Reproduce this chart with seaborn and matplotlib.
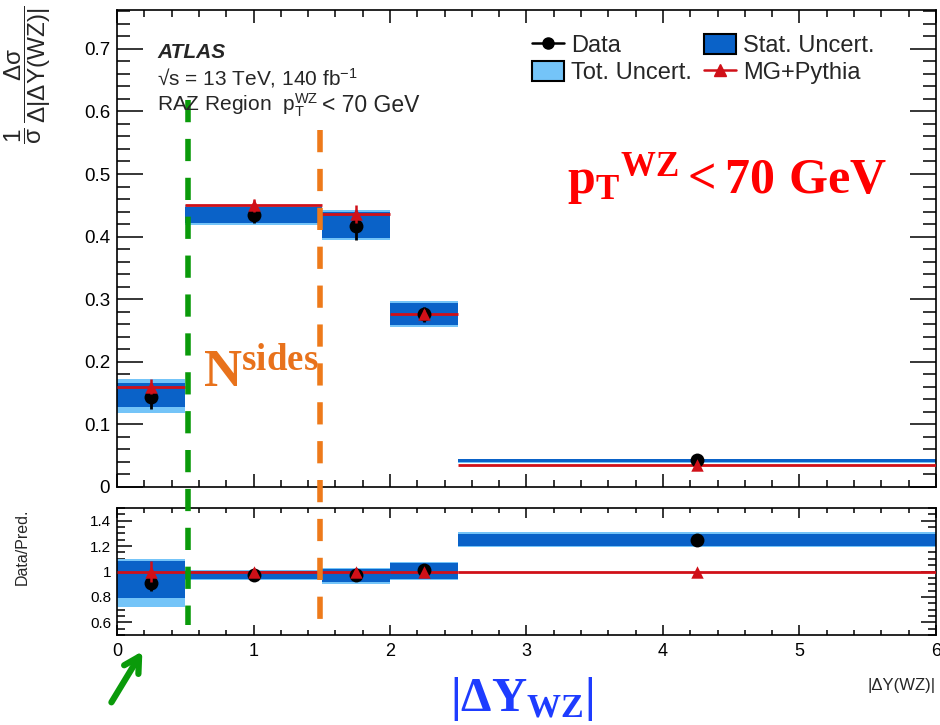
import numpy as np
import pandas as pd
import matplotlib
matplotlib.use("Agg")
import matplotlib.pyplot as plt
import seaborn as sns
from matplotlib.lines import Line2D
from matplotlib.patches import Patch
from matplotlib.ticker import MultipleLocator, FuncFormatter
from matplotlib.transforms import blended_transform_factory

# ---------------- data ----------------
bin_edges = [0.0, 0.5, 1.5, 2.0, 2.5, 6.0]
bin_centers = [0.25, 1.0, 1.75, 2.25, 4.25]

data_val = [0.144, 0.434, 0.417, 0.276, 0.043]
data_err = [0.020, 0.012, 0.022, 0.012, 0.004]
mc_val = [0.160, 0.450, 0.436, 0.277, 0.035]
mc_err = [0.012, 0.010, 0.015, 0.006, 0.002]
stat_lo = [0.128, 0.422, 0.398, 0.259, 0.0405]
stat_hi = [0.166, 0.447, 0.439, 0.294, 0.0440]
tot_lo = [0.118, 0.419, 0.394, 0.255, 0.0390]
tot_hi = [0.172, 0.450, 0.442, 0.297, 0.0450]

ratio_val = [0.91, 0.975, 0.97, 1.01, 1.25]
ratio_err = [0.06, 0.015, 0.03, 0.02, 0.01]
mc_ratio = [1.0, 1.0, 1.0, 1.0, 1.0]
mc_ratio_err = [0.08, 0.02, 0.03, 0.02, 0.01]
rstat_lo = [0.79, 0.94, 0.915, 0.945, 1.20]
rstat_hi = [1.08, 1.005, 1.02, 1.07, 1.295]
rtot_lo = [0.72, 0.935, 0.905, 0.935, 1.19]
rtot_hi = [1.10, 1.01, 1.025, 1.075, 1.31]

main_yticks = [0, 0.1, 0.2, 0.3, 0.4, 0.5, 0.6, 0.7]
ratio_yticks = [0.6, 0.8, 1.0, 1.2, 1.4]
x_ticks = [0, 1, 2, 3, 4, 5, 6]

legend_labels = ["Data", "Tot. Uncert.", "Stat. Uncert.", "MG+Pythia"]

# ---------------- style ----------------
sns.set_theme(style="ticks")
plt.rcParams["font.family"] = ["Liberation Sans", "DejaVu Sans"]
plt.rcParams.update({
    "mathtext.fontset": "custom",
    "mathtext.rm": "Liberation Sans",
    "mathtext.it": "Liberation Sans:italic",
    "mathtext.bf": "Liberation Serif:bold",
    "mathtext.sf": "Liberation Sans",
    "axes.edgecolor": "black",
    "axes.linewidth": 1.2,
    "xtick.color": "black",
    "ytick.color": "black",
})

C_STAT = "#0A62C8"
C_TOT = "#74C4F8"
C_MC = "#D01018"

df = pd.DataFrame({"x": bin_centers, "data": data_val, "mc": mc_val,
                   "ratio": ratio_val, "mcr": mc_ratio})
lo_edges = np.array(bin_edges[:-1])
widths = np.diff(bin_edges)

fig = plt.figure(figsize=(9.4, 7.25), dpi=100)
ax1 = fig.add_axes([0.1245, 0.3283, 0.8712, 0.6579])
ax2 = fig.add_axes([0.1245, 0.1241, 0.8712, 0.1752])


def draw_panel(ax, lo_t, hi_t, lo_s, hi_s, mc, mce, dat, de, ycol, mcol):
    ax.bar(lo_edges, np.array(hi_t) - np.array(lo_t), bottom=lo_t, width=widths,
           align="edge", color=C_TOT, linewidth=0, zorder=1)
    ax.bar(lo_edges, np.array(hi_s) - np.array(lo_s), bottom=lo_s, width=widths,
           align="edge", color=C_STAT, linewidth=0, zorder=2)
    ax.hlines(mc, bin_edges[:-1], bin_edges[1:], color=C_MC, lw=2.0, zorder=3)
    ax.errorbar(bin_centers, dat, yerr=de, fmt="none", ecolor="black",
                elinewidth=2.0, zorder=4)
    sns.scatterplot(data=df, x="x", y=ycol, ax=ax, color="black", marker="o",
                    s=100, edgecolor="black", linewidth=0, zorder=5, legend=False)
    ax.errorbar(bin_centers, mc, yerr=mce, fmt="none", ecolor=C_MC,
                elinewidth=1.8, zorder=6)
    sns.scatterplot(data=df, x="x", y=mcol, ax=ax, color=C_MC, marker="^",
                    s=80, edgecolor=C_MC, linewidth=0, zorder=7, legend=False)
    ax.set_xlabel("")
    ax.set_ylabel("")


draw_panel(ax1, tot_lo, tot_hi, stat_lo, stat_hi, mc_val, mc_err,
           data_val, data_err, "data", "mc")
draw_panel(ax2, rtot_lo, rtot_hi, rstat_lo, rstat_hi, mc_ratio, mc_ratio_err,
           ratio_val, ratio_err, "ratio", "mcr")

fmt = FuncFormatter(lambda v, p: f"{v:g}")

ax1.set_xlim(0, 6)
ax1.set_ylim(0, 0.762)
ax1.set_yticks(main_yticks)
ax1.yaxis.set_major_formatter(fmt)
ax1.yaxis.set_minor_locator(MultipleLocator(0.02))
ax1.set_xticks(x_ticks)
ax1.xaxis.set_minor_locator(MultipleLocator(0.2))
ax1.tick_params(axis="x", which="both", direction="in", top=True, bottom=True,
                labelbottom=False)
ax1.tick_params(axis="x", which="major", length=9.4, width=1.1)
ax1.tick_params(axis="x", which="minor", length=4.7, width=1.1)
ax1.tick_params(axis="y", which="both", direction="in", left=True, right=True,
                labelsize=13.5, pad=5)
ax1.tick_params(axis="y", which="major", length=18.5, width=1.1)
ax1.tick_params(axis="y", which="minor", length=9.3, width=1.1)

ax2.set_xlim(0, 6)
ax2.set_ylim(0.5, 1.5)
ax2.set_yticks(ratio_yticks)
ax2.yaxis.set_major_formatter(fmt)
ax2.yaxis.set_minor_locator(MultipleLocator(0.05))
ax2.set_xticks(x_ticks)
ax2.xaxis.set_major_formatter(fmt)
ax2.xaxis.set_minor_locator(MultipleLocator(0.2))
ax2.tick_params(axis="x", which="both", direction="in", top=True, bottom=True,
                labelsize=13, pad=6)
ax2.tick_params(axis="x", which="major", length=7, width=1.1)
ax2.tick_params(axis="x", which="minor", length=3.6, width=1.1)
ax2.tick_params(axis="y", which="both", direction="in", left=True, right=True,
                labelsize=11, pad=4)
ax2.tick_params(axis="y", which="major", length=11, width=1.1)
ax2.tick_params(axis="y", which="minor", length=5.8, width=1.1)

# axis titles
fig.text(0.029, 0.992,
         r"$\dfrac{1}{\mathrm{σ}}\,\dfrac{\mathrm{Δσ}}{\mathrm{Δ|ΔY(WZ)|}}$",
         rotation=90, ha="center", va="top", fontsize=17.5)
fig.text(0.0235, 0.299, "Data/Pred.", rotation=90, ha="center", va="top",
         fontsize=11.5)
fig.text(0.9957, 0.055, "|ΔY(WZ)|", ha="right", va="center", fontsize=12)

# ATLAS labels
fig.text(0.167, 0.920, "ATLAS", fontsize=15, fontweight="bold",
         fontstyle="italic", va="baseline")
fig.text(0.167, 0.883, r"√s = 13 TeV, 140 fb$^{\mathrm{-1}}$", fontsize=15,
         va="baseline")
fig.text(0.167, 0.846, r"RAZ Region  p$_{\mathrm{T}}^{\mathrm{WZ}}$",
         fontsize=15, va="baseline")
fig.text(0.3425, 0.846, "< 70 GeV", fontsize=16.5, va="baseline")

# legend
handles = [
    Line2D([], [], color="black", marker="o", lw=1.8, markersize=8),
    Patch(facecolor=C_TOT, edgecolor="black", linewidth=1.5),
    Patch(facecolor=C_STAT, edgecolor="black", linewidth=1.5),
    Line2D([], [], color=C_MC, marker="^", lw=1.8, markersize=8),
]
fig.legend(handles, legend_labels, loc="upper left",
           bbox_to_anchor=(0.566, 0.953), ncol=2, frameon=False, fontsize=17,
           handlelength=1.35, handleheight=0.95, handletextpad=0.3,
           columnspacing=0.5, labelspacing=0.15, borderpad=0, borderaxespad=0)

# annotation overlays
tr = blended_transform_factory(ax1.transData, fig.transFigure)
fig.add_artist(Line2D([0.52, 0.52], [0.862, 0.138], transform=tr,
                      color="#0A9A0A", lw=4, dashes=(4, 3)))
fig.add_artist(Line2D([1.487, 1.487], [0.821, 0.131], transform=tr,
                      color="#EE7A1A", lw=4, dashes=(4, 3)))

fig.text(0.603, 0.734, r"$\mathbf{p_{T}{}^{WZ}<70\ GeV}$", color="#FF0000",
         fontsize=36, va="baseline", ha="left")
fig.text(0.216, 0.466, r"$\mathbf{N^{sides}}$", color="#E8721C",
         fontsize=38, va="baseline", ha="left")
fig.text(0.479, 0.019, r"$\mathbf{|\Delta Y_{WZ}|}$", color="#1E3CFF",
         fontsize=35, va="baseline", ha="left")

ax2.annotate("", xy=(0.153, 0.105), xycoords="figure fraction",
             xytext=(0.117, 0.028), textcoords="figure fraction",
             arrowprops=dict(arrowstyle="->,head_length=0.9,head_width=0.5",
                             color="#0A9A0A", lw=4.5))

fig.savefig("out.png", dpi=100)
